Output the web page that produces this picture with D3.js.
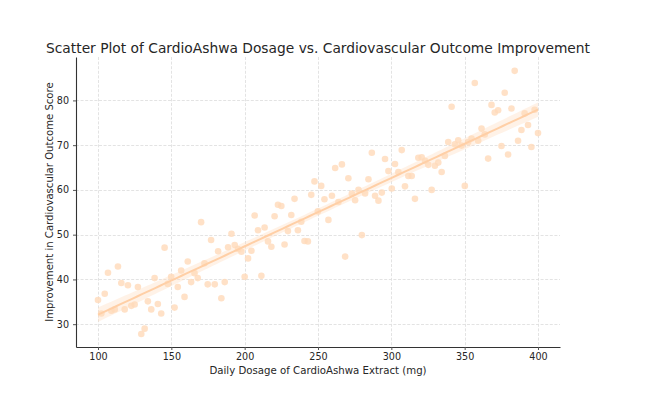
<!DOCTYPE html>
<html>
<head>
<meta charset="utf-8">
<script src="https://cdn.jsdelivr.net/npm/d3@7"></script>
<style>
    body { margin: 0; background: #fff; }
    text { font-family: "DejaVu Sans", sans-serif; fill: #262626; }
</style>
</head>
<body>
<div class="chart"></div>
<script>
// values
var dosage = [
    100.0, 102.3, 104.6, 106.8, 109.1, 111.4, 113.6, 115.9, 118.2, 120.4,
    122.7, 125.0, 127.2, 129.5, 131.8, 134.0, 136.3, 138.6, 140.8, 143.1,
    145.4, 147.6, 149.9, 152.2, 154.4, 156.7, 159.0, 161.2, 163.5, 165.8,
    168.0, 170.3, 172.6, 174.8, 177.1, 179.6, 181.9, 184.1, 186.4, 188.7,
    191.0, 193.2, 195.5, 197.8, 200.0, 202.3, 204.6, 206.8, 209.1, 211.4,
    213.6, 215.9, 218.2, 220.4, 222.7, 225.0, 227.2, 229.5, 231.8, 234.0,
    236.3, 238.6, 240.8, 243.1, 245.4, 247.6, 249.9, 252.2, 254.4, 257.1,
    259.5, 261.7, 263.9, 266.3, 268.5, 270.7, 273.1, 275.3, 277.6, 279.9,
    282.1, 284.4, 286.7, 288.9, 291.2, 293.5, 295.7, 298.0, 300.3, 302.5,
    304.8, 307.1, 309.3, 311.6, 313.9, 316.1, 318.4, 320.7, 323.0, 325.2,
    327.5, 329.7, 332.0, 334.3, 336.5, 338.8, 341.1, 343.3, 345.6, 347.9,
    350.1, 352.4, 354.7, 356.9, 359.2, 361.5, 363.7, 366.0, 368.3, 370.5,
    372.8, 375.1, 377.3, 379.6, 381.9, 384.1, 386.4, 388.7, 390.9, 393.2,
    395.5, 397.7, 400.0
];
var improvement = [
    35.4, 32.4, 36.8, 41.5, 33.0, 33.3, 42.9, 39.2, 33.3, 38.7,
    34.1, 34.4, 38.3, 27.8, 29.0, 35.1, 33.3, 40.3, 34.5, 32.4,
    47.1, 39.0, 40.6, 33.7, 38.3, 42.0, 36.1, 44.0, 39.4, 41.4,
    40.3, 52.8, 43.6, 38.9, 48.8, 38.9, 46.3, 35.8, 39.4, 47.2,
    50.2, 47.7, 46.8, 46.2, 40.6, 44.7, 46.4, 54.3, 51.0, 40.8,
    51.6, 48.5, 47.3, 54.1, 56.7, 56.4, 47.8, 50.8, 54.4, 58.0,
    51.0, 52.9, 48.6, 48.5, 58.9, 61.9, 55.2, 60.9, 57.9, 53.3,
    58.7, 64.9, 57.3, 65.7, 45.1, 62.6, 59.2, 57.7, 60.0, 49.9,
    59.2, 62.4, 68.3, 58.7, 57.6, 59.4, 66.9, 64.2, 60.3, 65.8,
    64.0, 68.9, 60.8, 63.1, 63.1, 58.0, 67.2, 67.3, 66.5, 65.6,
    60.0, 65.4, 66.1, 64.0, 67.6, 70.7, 78.6, 70.2, 71.1, 69.9,
    60.9, 70.7, 71.5, 83.9, 71.0, 73.7, 72.4, 67.0, 79.0, 77.3,
    77.8, 69.8, 81.7, 67.9, 78.2, 86.6, 71.0, 73.4, 77.1, 74.5,
    69.6, 77.9, 72.7
];
var xTicks = [100, 150, 200, 250, 300, 350, 400];
var yTicks = [30, 40, 50, 60, 70, 80];

var chartTitle = "Scatter Plot of CardioAshwa Dosage vs. Cardiovascular Outcome Improvement";
var xAxisLabel = "Daily Dosage of CardioAshwa Extract (mg)";
var yAxisLabel = "Improvement in Cardiovascular Outcome Score";

var svgWidth = 656;
var svgHeight = 395;
var margin = { top: 57, right: 96, bottom: 48, left: 76 };
var width = svgWidth - margin.left - margin.right;
var height = svgHeight - margin.top - margin.bottom;

var pointColor = "#ffdab9";

var svg = d3.select(".chart")
    .append("svg")
    .attr("width", svgWidth)
    .attr("height", svgHeight);

var chartGroup = svg.append("g")
    .attr("transform", `translate(${margin.left}, ${margin.top})`);

var dataSet = dosage.map(function (d, i) {
    return { x: d, y: improvement[i] };
});

// scales
var xLinearScale = d3.scaleLinear()
    .domain([85, 415])
    .range([0, width]);

var yLinearScale = d3.scaleLinear()
    .domain([24.9, 89.7])
    .range([height, 0]);

// grid lines
chartGroup.append("g")
    .selectAll("line")
    .data(xTicks)
    .enter()
    .append("line")
    .attr("x1", d => Math.round(xLinearScale(d)) + 0.5)
    .attr("x2", d => Math.round(xLinearScale(d)) + 0.5)
    .attr("y1", 0)
    .attr("y2", height)
    .attr("stroke", "#e0e0e0")
    .attr("stroke-width", 0.9)
    .attr("stroke-dasharray", "3,1.6");

chartGroup.append("g")
    .selectAll("line")
    .data(yTicks)
    .enter()
    .append("line")
    .attr("x1", 0)
    .attr("x2", width)
    .attr("y1", d => Math.round(yLinearScale(d)) + 0.5)
    .attr("y2", d => Math.round(yLinearScale(d)) + 0.5)
    .attr("stroke", "#e0e0e0")
    .attr("stroke-width", 0.9)
    .attr("stroke-dasharray", "3,1.6");

// linear regression + 95% band
var n = dataSet.length;
var meanX = d3.mean(dataSet, d => d.x);
var meanY = d3.mean(dataSet, d => d.y);
var sxx = d3.sum(dataSet, d => (d.x - meanX) * (d.x - meanX));
var sxy = d3.sum(dataSet, d => (d.x - meanX) * (d.y - meanY));
var slope = sxy / sxx;
var intercept = meanY - slope * meanX;
var sse = d3.sum(dataSet, d => Math.pow(d.y - (intercept + slope * d.x), 2));
var se = Math.sqrt(sse / (n - 2));
var tCrit = 1.978;

var fitX = d3.range(0, 101).map(i => d3.min(dosage) + i * (d3.max(dosage) - d3.min(dosage)) / 100);
var fitPoints = fitX.map(function (x) {
    var yHat = intercept + slope * x;
    var half = tCrit * se * Math.sqrt(1 / n + (x - meanX) * (x - meanX) / sxx);
    return { x: x, y: yHat, lo: yHat - half, hi: yHat + half };
});

chartGroup.append("path")
    .datum(fitPoints)
    .attr("fill", pointColor)
    .attr("opacity", 0.35)
    .attr("d", d3.area()
        .x(d => xLinearScale(d.x))
        .y0(d => yLinearScale(d.lo))
        .y1(d => yLinearScale(d.hi)));

// points
chartGroup.append("g")
    .selectAll("circle")
    .data(dataSet)
    .enter()
    .append("circle")
    .attr("cx", d => xLinearScale(d.x))
    .attr("cy", d => yLinearScale(d.y))
    .attr("r", 3.3)
    .attr("fill", pointColor)
    .attr("opacity", 0.8);

chartGroup.append("path")
    .datum(fitPoints)
    .attr("fill", "none")
    .attr("stroke", "#ffcfa6")
    .attr("stroke-width", 2)
    .attr("d", d3.line()
        .x(d => xLinearScale(d.x))
        .y(d => yLinearScale(d.y)));

// axes
var bottomAxis = d3.axisBottom(xLinearScale)
    .tickValues(xTicks)
    .tickSizeInner(3)
    .tickSizeOuter(0)
    .tickPadding(3);
var leftAxis = d3.axisLeft(yLinearScale)
    .tickValues(yTicks)
    .tickSizeInner(3)
    .tickSizeOuter(0)
    .tickPadding(4);

var xAxisGroup = chartGroup.append("g")
    .attr("transform", `translate(0, ${height})`)
    .call(bottomAxis);
var yAxisGroup = chartGroup.append("g")
    .call(leftAxis);

[xAxisGroup, yAxisGroup].forEach(function (g) {
    g.select(".domain").attr("stroke", "#333").attr("stroke-width", 1.1);
    g.selectAll(".tick line").attr("stroke", "#555");
    g.selectAll(".tick text")
        .attr("font-family", "DejaVu Sans, sans-serif")
        .attr("font-size", "9.6px")
        .attr("fill", "#262626");
});

// labels
svg.append("text")
    .attr("x", margin.left + width / 2)
    .attr("y", 53)
    .attr("text-anchor", "middle")
    .attr("font-size", "13.8px")
    .text(chartTitle);

svg.append("text")
    .attr("x", margin.left + width / 2)
    .attr("y", 374)
    .attr("text-anchor", "middle")
    .attr("font-size", "10.2px")
    .text(xAxisLabel);

svg.append("text")
    .attr("transform", `translate(53, ${margin.top + height / 2}) rotate(-90)`)
    .attr("text-anchor", "middle")
    .attr("font-size", "10.1px")
    .text(yAxisLabel);
</script>
</body>
</html>
